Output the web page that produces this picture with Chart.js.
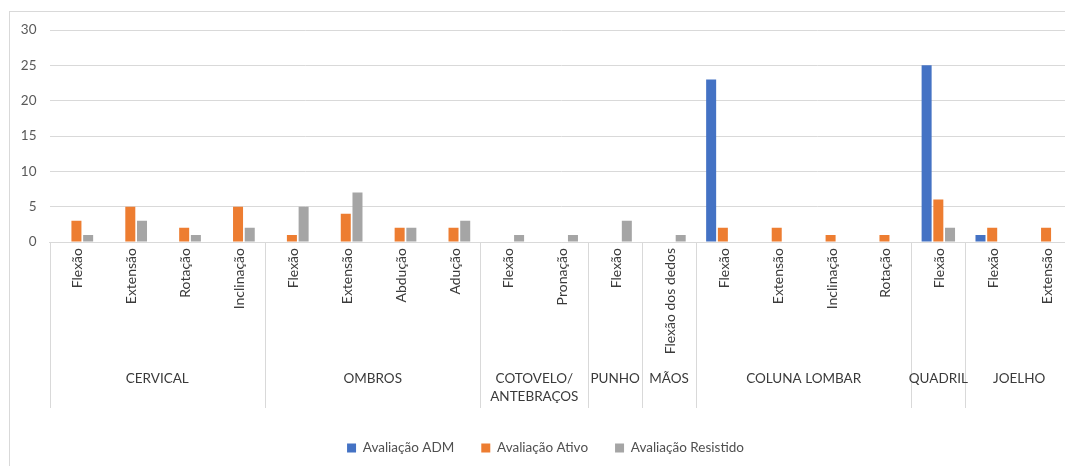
<!DOCTYPE html>
<html>
<head>
<meta charset="utf-8">
<script src="https://cdn.jsdelivr.net/npm/chart.js@4.4.1/dist/chart.umd.min.js"></script>
<style>
  html, body { margin: 0; padding: 0; background: #fff; width: 1065px; height: 466px; overflow: hidden; }
  #wrap { position: absolute; left: 0; top: 0; }
</style>
</head>
<body>
<div id="wrap"><canvas id="chart" width="1080" height="466"></canvas></div>
<script>
// Body regions and how many movements each one groups
const regions = ['CERVICAL', 'OMBROS', ['COTOVELO/', 'ANTEBRAÇOS'], 'PUNHO', 'MÃOS', 'COLUNA LOMBAR', 'QUADRIL', 'JOELHO'];
const regionSizes = [4, 4, 2, 1, 1, 4, 1, 2];

// Movements evaluated, in order along the category axis
const movements = [
  'Flexão', 'Extensão', 'Rotação', 'Inclinação',
  'Flexão', 'Extensão', 'Abdução', 'Adução',
  'Flexão', 'Pronação',
  'Flexão',
  'Flexão dos dedos',
  'Flexão', 'Extensão', 'Inclinação', 'Rotação',
  'Flexão',
  'Flexão', 'Extensão'
];

// Counts per evaluation type
const admValues       = [0, 0, 0, 0,  0, 0, 0, 0,  0, 0,  0,  0,  23, 0, 0, 0,  25,  1, 0];
const ativoValues     = [3, 5, 2, 5,  1, 4, 2, 2,  0, 0,  0,  0,  2, 2, 1, 1,   6,  2, 2];
const resistidoValues = [1, 3, 1, 2,  5, 7, 2, 3,  1, 1,  3,  1,  0, 0, 0, 0,   2,  0, 0];

const yTicks = [0, 5, 10, 15, 20, 25, 30];

const FONT = 'Lato, "Liberation Sans", sans-serif';
const LINE = '#d9d9d9';
const TEXT = '#3a3a3a';
const SEPARATOR_DEPTH = 166;

// Frame, vertical movement labels, region separators and region names under the category axis
const regionAxis = {
  id: 'regionAxis',
  beforeDraw(chart) {
    const ctx = chart.ctx;
    ctx.save();
    ctx.fillStyle = '#ffffff';
    ctx.fillRect(0, 0, chart.width, chart.height);
    ctx.strokeStyle = LINE;
    ctx.lineWidth = 1;
    ctx.strokeRect(9.5, 11.5, 3000, 3000);
    ctx.restore();
  },
  afterDraw(chart) {
    const ctx = chart.ctx;
    const x = chart.scales.x;
    const top = chart.chartArea.bottom;
    const bottom = top + SEPARATOR_DEPTH;
    ctx.save();

    // movement names, read bottom-to-top, hanging from the axis line
    ctx.fillStyle = TEXT;
    ctx.font = '14px ' + FONT;
    ctx.textAlign = 'right';
    ctx.textBaseline = 'middle';
    movements.forEach((name, i) => {
      ctx.save();
      ctx.translate(x.getPixelForValue(i) + 1.5, top + 6);
      ctx.rotate(-Math.PI / 2);
      ctx.fillText(name, 0, 0);
      ctx.restore();
    });

    // region separators
    ctx.strokeStyle = LINE;
    ctx.lineWidth = 1;
    let start = 0;
    const edges = [x.getPixelForValue(-0.5)];
    regionSizes.forEach(n => { start += n; edges.push(x.getPixelForValue(start - 0.5)); });
    edges.forEach(px => {
      const p = Math.round(px) + 0.5;
      ctx.beginPath();
      ctx.moveTo(p, top);
      ctx.lineTo(p, bottom);
      ctx.stroke();
    });

    // region names
    ctx.fillStyle = TEXT;
    ctx.font = '13.5px ' + FONT;
    ctx.textAlign = 'center';
    ctx.textBaseline = 'middle';
    regions.forEach((name, i) => {
      const cx = (edges[i] + edges[i + 1]) / 2;
      const lines = Array.isArray(name) ? name : [name];
      lines.forEach((t, k) => ctx.fillText(t, cx, 379 + k * 18));
    });
    ctx.restore();
  }
};

new Chart(document.getElementById('chart'), {
  type: 'bar',
  data: {
    labels: movements,
    datasets: [
      { label: 'Avaliação ADM', data: admValues, backgroundColor: '#4472C4' },
      { label: 'Avaliação Ativo', data: ativoValues, backgroundColor: '#ED7D31' },
      { label: 'Avaliação Resistido', data: resistidoValues, backgroundColor: '#A5A5A5' }
    ]
  },
  options: {
    responsive: false,
    animation: false,
    devicePixelRatio: 1,
    layout: { padding: { top: 30, left: 18, right: 7, bottom: 1.25 } },
    datasets: {
      bar: { categoryPercentage: 0.652, barPercentage: 0.855, borderWidth: 0 }
    },
    scales: {
      x: {
        grid: { display: false },
        border: { display: true, color: LINE, width: 1 },
        ticks: { display: false },
        afterFit(scale) { scale.height = 172.25; }
      },
      y: {
        min: 0,
        max: 30,
        afterBuildTicks(scale) { scale.ticks = yTicks.map(v => ({ value: v })); },
        grid: { color: LINE, lineWidth: 1, drawTicks: false },
        border: { display: false },
        ticks: {
          padding: 13,
          color: '#595959',
          font: { family: FONT, size: 13.5 }
        },
        afterFit(scale) { scale.width = 31.5; }
      }
    },
    plugins: {
      legend: {
        position: 'bottom',
        labels: {
          boxWidth: 9,
          boxHeight: 9,
          padding: 27,
          color: '#505050',
          font: { family: FONT, size: 13.5 }
        }
      },
      tooltip: { enabled: false }
    }
  },
  plugins: [regionAxis]
});
</script>
</body>
</html>
